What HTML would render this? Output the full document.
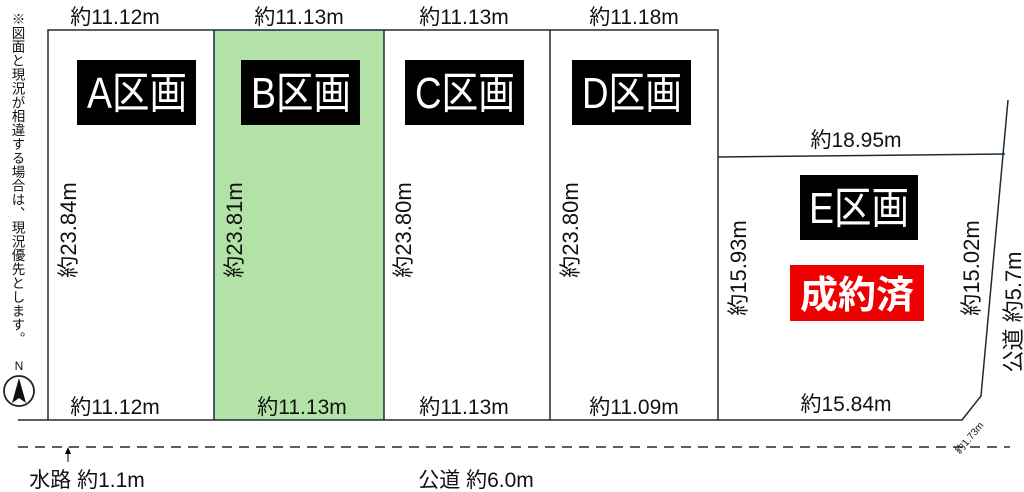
<!DOCTYPE html>
<html><head><meta charset="utf-8"><style>
html,body{margin:0;padding:0;background:#fff;}
svg{display:block;}
text{font-family:"Liberation Sans","Noto Sans CJK JP",sans-serif;}
</style></head><body>
<svg width="1024" height="492" viewBox="0 0 1024 492">
<rect x="214" y="30" width="170" height="390" fill="#b3e2a6"/>
<g stroke="#1b2b3a" stroke-width="1.5" fill="none">
<polyline points="48,420 48,30 718,30 718,420"/>
<line x1="214" y1="30" x2="214" y2="420"/>
<line x1="384" y1="30" x2="384" y2="420"/>
<line x1="550" y1="30" x2="550" y2="420"/>
<line x1="718" y1="157" x2="1005" y2="154"/>
<polyline points="1008,100 981,396 962,420 18,420"/>
<line x1="18" y1="447" x2="1010" y2="447" stroke-dasharray="10,7"/>
<line x1="68" y1="462" x2="68" y2="452" stroke-width="1.2"/>
</g>
<polygon points="68,447 65,454 71,454" fill="#000"/>
<g font-size="21" fill="#111" text-anchor="middle">
<text x="115" y="24">約11.12m</text>
<text x="299" y="24">約11.13m</text>
<text x="464" y="24">約11.13m</text>
<text x="634" y="24">約11.18m</text>
<text x="856" y="147">約18.95m</text>
<text x="115" y="414">約11.12m</text>
<text x="302" y="414">約11.13m</text>
<text x="464" y="414">約11.13m</text>
<text x="634" y="414">約11.09m</text>
<text x="846" y="411">約15.84m</text>
<text x="87" y="487">水路 約1.1m</text>
<text x="476" y="487">公道 約6.0m</text>
</g>
<g font-size="22" fill="#111" text-anchor="middle">
<text transform="translate(76,230) rotate(-90)">約23.84m</text>
<text transform="translate(242,230) rotate(-90)">約23.81m</text>
<text transform="translate(411,230) rotate(-90)">約23.80m</text>
<text transform="translate(578,230) rotate(-90)">約23.80m</text>
<text transform="translate(746,268) rotate(-90)">約15.93m</text>
<text transform="translate(979,268) rotate(-90)">約15.02m</text>
<text transform="translate(1021,312) rotate(-90)">公道 約5.7m</text>
</g>
<text transform="translate(972,440) rotate(-50)" font-size="10" fill="#111" text-anchor="middle">約1.73m</text>
<g fill="#000">
<rect x="77" y="60" width="119" height="65"/>
<rect x="241" y="60" width="119" height="65"/>
<rect x="405" y="60" width="119" height="65"/>
<rect x="572" y="60" width="119" height="65"/>
<rect x="800" y="175" width="118" height="65"/>
</g>
<rect x="790" y="265" width="134" height="56" fill="#ee0000"/>
<g font-size="44" fill="#fff">
<text x="87" y="108" textLength="100" lengthAdjust="spacingAndGlyphs">A区画</text>
<text x="251" y="108" textLength="100" lengthAdjust="spacingAndGlyphs">B区画</text>
<text x="415" y="108" textLength="100" lengthAdjust="spacingAndGlyphs">C区画</text>
<text x="582" y="108" textLength="100" lengthAdjust="spacingAndGlyphs">D区画</text>
<text x="809" y="223" textLength="100" lengthAdjust="spacingAndGlyphs">E区画</text>
</g>
<text x="857" y="308" font-size="38" font-weight="bold" fill="#fff" text-anchor="middle">成約済</text>
<text x="17" y="12" font-size="13.5" fill="#111" style="writing-mode:vertical-rl;glyph-orientation-vertical:0" letter-spacing="0.4">※図面と現況が相違する場合は、現況優先とします。</text>
<text x="19" y="370" font-size="12" fill="#111" text-anchor="middle">N</text>
<circle cx="19" cy="391" r="15" fill="none" stroke="#222" stroke-width="1.8"/>
<polygon points="19,378 12,403 19,398 26,403" fill="#111"/>
</svg>
</body></html>
